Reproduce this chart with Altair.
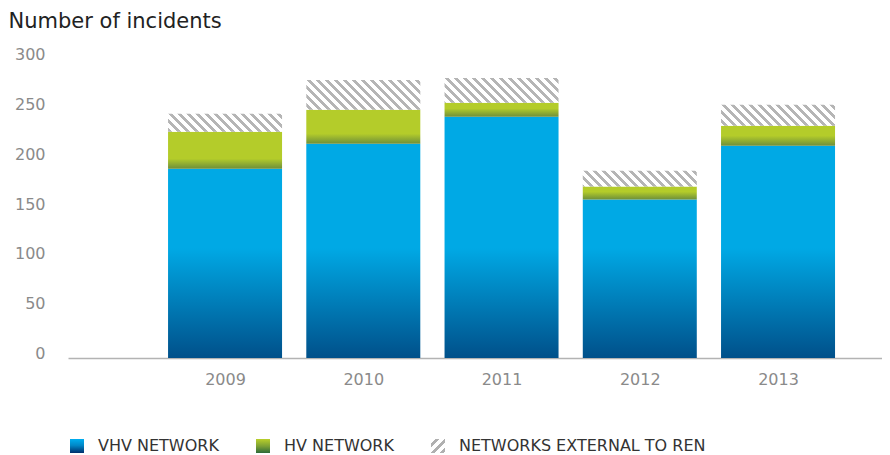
import math
import altair as alt

# ---------------- data ----------------
years = [2009, 2010, 2011, 2012, 2013]
vhv = [190, 215, 242, 159, 213]
hv = [37, 34, 14, 13, 20]
ext = [18, 30, 25, 16, 21]
series = ["VHV NETWORK", "HV NETWORK", "NETWORKS EXTERNAL TO REN"]
y_ticks = [0, 50, 100, 150, 200, 250, 300]

# ---------------- styling ----------------
FONT = "DejaVu Sans"
PLOT_W, PLOT_H = 814, 299
Y_MAX = 300
PX = PLOT_H / Y_MAX
BAR_W = 114
X_DOMAIN = [2007.864, 2013.752]

BLUE, BLUE_DARK = "#00a9e5", "#00508a"
GREEN, GREEN_DARK = "#b4cc2a", "#6e8f3a"
HATCH, WHITE = "#b5b5b5", "#ffffff"


def vgrad(stops):
    return {"gradient": "linear", "x1": 0, "y1": 0, "x2": 0, "y2": 1,
            "stops": [{"offset": round(o, 4), "color": c} for o, c in stops]}


def blue_grad(v):
    h = v * PX
    o = max(0.0, 1 - 110 / h)
    return vgrad([(0, BLUE), (o, BLUE), (1, BLUE_DARK)])


def green_grad(v):
    h = v * PX
    fade = min(10, 0.6 * h)
    o = max(0.0, 1 - fade / h)
    return vgrad([(0, GREEN), (o, GREEN), (1, GREEN_DARK)])


def hatch_grad(v, period=9.0, gray=4.2):
    # diagonal "\" stripes, 45 degrees in pixel space
    W, H = BAR_W, v * PX
    c = (W + H) / (W * W + H * H)
    t = lambda s: (s + H) / (W + H)
    col = lambda s: HATCH if (s % period) < gray else WHITE
    bounds = []
    k0 = math.floor(-H / period) - 1
    k1 = math.ceil(W / period) + 1
    for k in range(k0, k1 + 1):
        for b in (k * period, k * period + gray):
            if -H < b < W:
                bounds.append(b)
    bounds.sort()
    stops = [(0, col(-H + 1e-6))]
    for b in bounds:
        stops.append((t(b), col(b - 1e-6)))
        stops.append((t(b), col(b + 1e-6)))
    stops.append((1, col(W - 1e-6)))
    return {"gradient": "linear", "x1": 0, "y1": 1,
            "x2": round(c * W, 5), "y2": round(1 - c * H, 5),
            "stops": [{"offset": round(o, 5), "color": cc} for o, cc in stops]}


rows = []
for yr, a, b, e in zip(years, vhv, hv, ext):
    rows.append({"year": yr, "series": series[0], "y0": 0, "y1": a, "grad": blue_grad(a)})
    rows.append({"year": yr, "series": series[1], "y0": a, "y1": a + b, "grad": green_grad(b)})
    rows.append({"year": yr, "series": series[2], "y0": a + b, "y1": a + b + e, "grad": hatch_grad(e)})

x_scale = alt.Scale(domain=X_DOMAIN, nice=False, zero=False, padding=0)
y_scale = alt.Scale(domain=[0, Y_MAX], nice=False, padding=0)

bars = alt.Chart(alt.Data(values=rows)).mark_bar(size=BAR_W).encode(
    x=alt.X("year:Q", scale=x_scale,
            axis=alt.Axis(values=years, format="d", title=None, grid=False,
                          ticks=False, tickSize=0, labelFont=FONT, labelFontSize=16,
                          labelColor="#8a8a8a", labelPadding=13,
                          domainColor="#b3b3b3", domainWidth=1.5)),
    y=alt.Y("y0:Q", scale=y_scale,
            axis=alt.Axis(values=y_ticks, grid=False, domain=False, ticks=False,
                          tickSize=0, labelFont=FONT, labelFontSize=16,
                          labelColor="#8a8a8a", labelPadding=23, labelOffset=-4.5,
                          title="Number of incidents", titleAngle=0,
                          titleX=-60, titleY=-32, titleAlign="left",
                          titleBaseline="alphabetic", titleFont=FONT,
                          titleFontSize=21, titleFontWeight="normal",
                          titleColor="#222222")),
    y2="y1:Q",
    fill=alt.Fill("grad:N", scale=None),
)

# legend symbols (gradients as expressions)
leg_blue = ("{gradient:'linear',x1:0,y1:0,x2:0,y2:1,stops:[{offset:0,color:'#00aef0'},"
            "{offset:0.45,color:'#0088c8'},{offset:1,color:'#002f6c'}]}")
leg_green = ("{gradient:'linear',x1:0,y1:0,x2:0,y2:1,stops:[{offset:0,color:'#b9cf2b'},"
             "{offset:0.5,color:'#7ea234'},{offset:1,color:'#2e6a3a'}]}")
hs = []
p = 1 / 3.2
o = 0.0
i = 0
while o < 1:
    c1 = "#ffffff" if i % 2 == 0 else "#b0b0b0"
    nxt = min(1.0, o + (p * 0.45 if i % 2 == 1 else p * 0.55))
    hs.append("{offset:%.4f,color:'%s'},{offset:%.4f,color:'%s'}" % (o, c1, nxt, c1))
    o = nxt
    i += 1
leg_hatch = "{gradient:'linear',x1:0,y1:0,x2:1,y2:1,stops:[" + ",".join(hs) + "]}"

legend_layer = alt.Chart(alt.Data(values=[{"series": s} for s in series])).mark_square(
    opacity=0
).encode(
    x=alt.value(-2000),
    y=alt.value(-2000),
    color=alt.Color("series:N",
                    scale=alt.Scale(domain=series,
                                    range=[alt.ExprRef(leg_blue), alt.ExprRef(leg_green),
                                           alt.ExprRef(leg_hatch)]),
                    legend=alt.Legend(title=None, orient="none", direction="horizontal",
                                      legendX=1, legendY=379, padding=0,
                                      symbolType="square", symbolSize=196,
                                      symbolStrokeWidth=0, symbolOpacity=1,
                                      labelFont=FONT, labelFontSize=16, labelLimit=0,
                                      labelColor="#333333", labelOffset=13,
                                      columnPadding=36)),
)

chart = alt.layer(bars, legend_layer).properties(
    width=PLOT_W, height=PLOT_H,
    autosize=alt.AutoSizeParams(type="none"),
    padding={"left": 60, "top": 51, "right": 0, "bottom": 96},
).configure_view(strokeWidth=0)

chart.save("out.html", embed_options={"renderer": "svg", "actions": False})
